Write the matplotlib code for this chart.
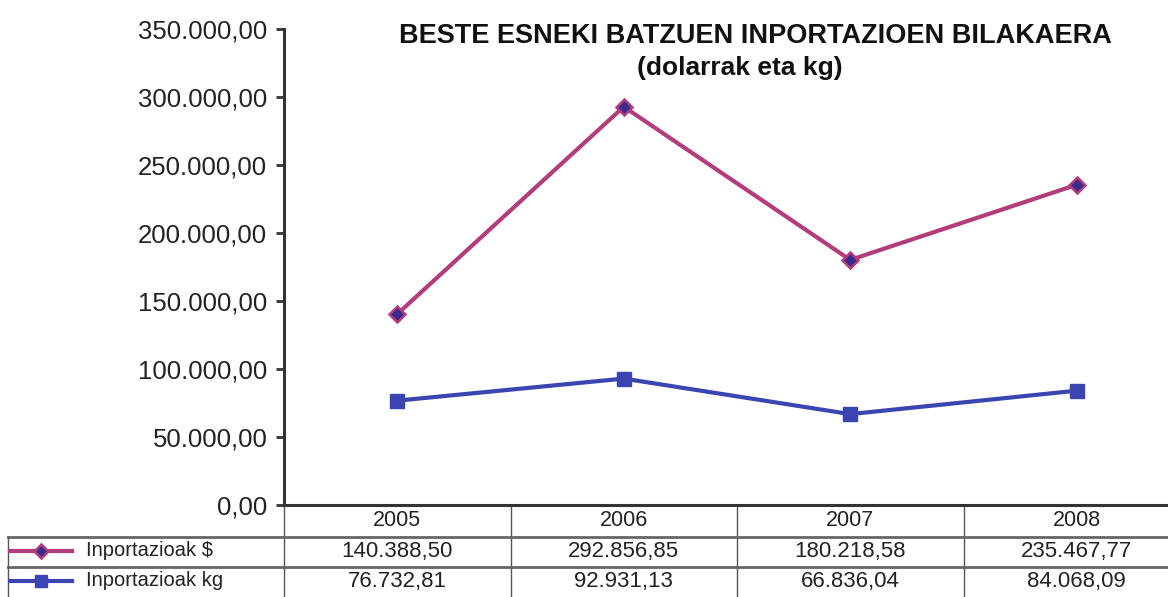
import matplotlib.pyplot as plt
from matplotlib.lines import Line2D
from matplotlib.ticker import FuncFormatter

years = ["2005", "2006", "2007", "2008"]
usd = [140388.50, 292856.85, 180218.58, 235467.77]
kg = [76732.81, 92931.13, 66836.04, 84068.09]
series_names = ["Inportazioak $", "Inportazioak kg"]
title = "BESTE ESNEKI BATZUEN INPORTAZIOEN BILAKAERA"
subtitle = "(dolarrak eta kg)"

MAGENTA = "#b33c7a"
BLUE = "#3a45b2"
DIAMOND_FILL = "#3a2a8c"

plt.rcParams["font.family"] = "Liberation Sans"


def eu(v):
    s = f"{v:,.2f}"
    return s.replace(",", "X").replace(".", ",").replace("X", ".")


W, H = 1168, 597
fig = plt.figure(figsize=(W / 100, H / 100), dpi=100)
ax = fig.add_axes([284 / W, 1 - 505 / H, 906 / W, 476 / H])

x = list(range(len(years)))
ax.plot(x, usd, color=MAGENTA, lw=3, marker="D", ms=8,
        mfc=DIAMOND_FILL, mec=MAGENTA, mew=1.8, zorder=3)
ax.plot(x, kg, color=BLUE, lw=3, marker="s", ms=10,
        mfc=BLUE, mec=BLUE, zorder=3)

ax.set_xlim(-0.5, len(years) - 0.5)
ax.set_ylim(0, 350000)
ax.set_yticks(range(0, 350001, 50000))
ax.yaxis.set_major_formatter(FuncFormatter(lambda v, p: eu(v)))
ax.set_xticks([])
ax.tick_params(axis="y", labelsize=18.5, length=6, width=2, color="#333333",
               pad=6, labelcolor="#222222")
for s in ["top", "right"]:
    ax.spines[s].set_visible(False)
for s in ["left", "bottom"]:
    ax.spines[s].set_linewidth(2.2)
    ax.spines[s].set_color("#333333")

fig.text(755 / W, 1 - 36 / H, title, ha="center", va="center",
         fontsize=19.5, fontweight="bold", color="#111111")
fig.text(740 / W, 1 - 68 / H, subtitle, ha="center", va="center",
         fontsize=19, fontweight="bold", color="#111111")

# data table under the plot
ah = 476.0
row_y = [(505 - 521) / ah, (505 - 551) / ah, (505 - 581) / ah]
tr = ax.get_xaxis_transform()
for i, yr in enumerate(years):
    ax.text(i, row_y[0], yr, transform=tr, ha="center", va="center",
            fontsize=15.5, color="#222222", clip_on=False)
    ax.text(i, row_y[1], eu(usd[i]), transform=tr, ha="center", va="center",
            fontsize=16, color="#222222", clip_on=False)
    ax.text(i, row_y[2], eu(kg[i]), transform=tr, ha="center", va="center",
            fontsize=16, color="#222222", clip_on=False)

grid_c = "#555555"
for i in range(len(years)):
    ax.plot([i - 0.5, i - 0.5], [0, -0.25], transform=tr, color=grid_c,
            lw=1, clip_on=False)
for yy in [537, 567]:
    fig.add_artist(Line2D([8 / W, 1], [1 - yy / H] * 2, color="#666666", lw=2))
fig.add_artist(Line2D([8 / W, 8 / W], [1 - 537 / H, 0], color=grid_c, lw=1))

# legend keys in row labels
for k, (name, col, mk, ms, mfc, mew) in enumerate([
        (series_names[0], MAGENTA, "D", 7, DIAMOND_FILL, 1.8),
        (series_names[1], BLUE, "s", 9, BLUE, 1)]):
    yc = 1 - (551 + 30 * k) / H
    fig.add_artist(Line2D([10 / W, 72 / W], [yc, yc], color=col, lw=3))
    fig.add_artist(Line2D([41 / W], [yc], marker=mk, ms=ms, mfc=mfc,
                          mec=col, mew=mew, color=col))
    fig.text(86 / W, yc, name, ha="left", va="center", fontsize=14.5,
             color="#222222")

fig.savefig("out.png", dpi=100, facecolor="white")
